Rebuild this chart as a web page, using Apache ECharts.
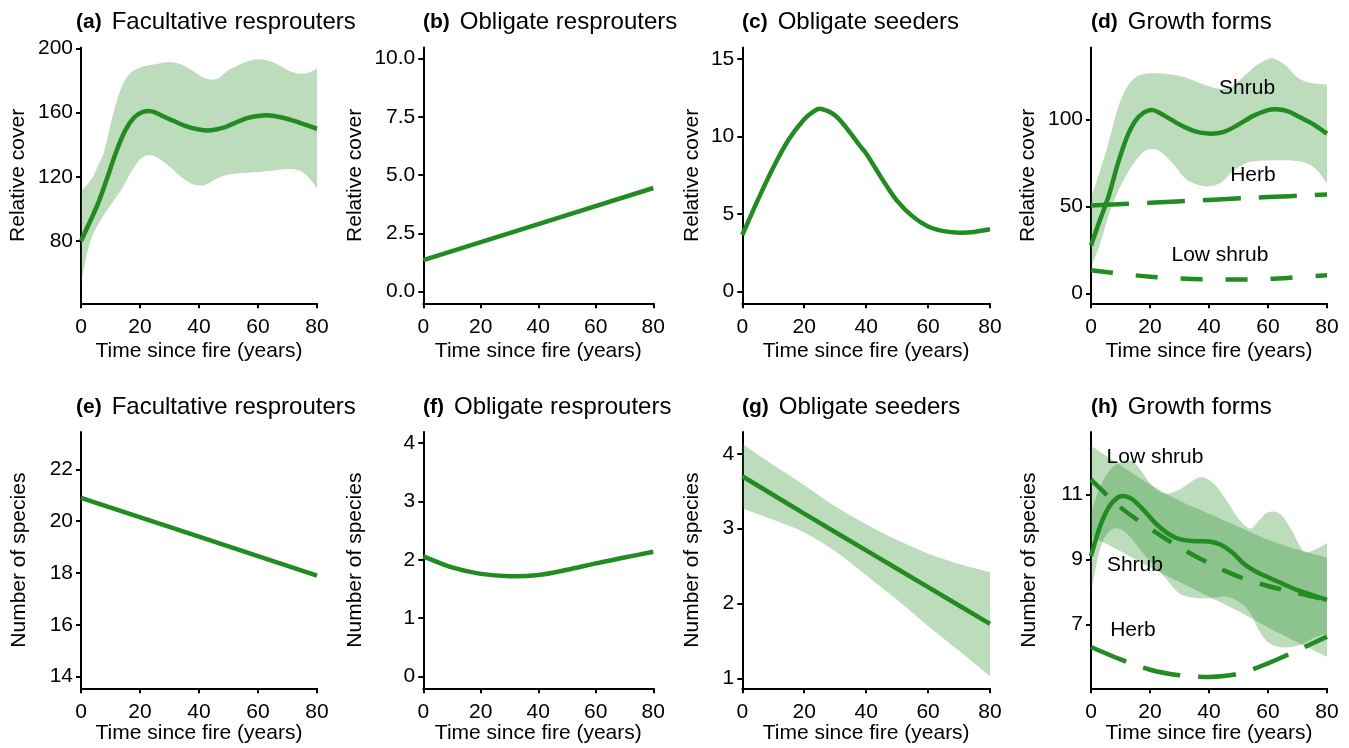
<!DOCTYPE html>
<html><head><meta charset="utf-8">
<script src="https://cdn.jsdelivr.net/npm/echarts@6.0.0/dist/echarts.min.js"></script>
<style>html,body{margin:0;padding:0;background:#fff}#c{width:1349px;height:748px}</style>
</head><body><div id="c"></div><script>
// ---------------- DATA ----------------
const xTicks = [0, 20, 40, 60, 80];
const xLabel = 'Time since fire (years)';

// (a) Facultative resprouters - relative cover
const aX = [0,3,6,9,12,15,18,21,24,27,30,35,40,44,48,52,56,60,64,68,72,76,80];
const aFit = [80,92,104.5,120,136,149,157,160.5,160.8,158.5,156,152,149.5,149,150.5,153.5,156.5,158,158.3,157,155,152.5,150];
const aBandX = [0,2,4,6,8,11,14,17,20,23,26,30,34,38,42,46,50,55,60,65,70,74,77,80];
const aUpper = [111,115,120,128,137,160,177,185,188,189.5,190.5,191.5,190,186,181.5,181,186.4,191,193.3,191.5,186.5,184.3,184.8,187.5];
const aLower = [54,72,84,91,97,105,113,123,131,133.5,132,126.5,120,115.5,115,119,121.5,122.5,123,124,125,124,120,113];
const aTicks = [80,120,160,200];

// (b) Obligate resprouters - relative cover
const bX = [0, 80];
const bFit = [1.35, 4.45];
const bTicks = [0, 2.5, 5, 7.5, 10];

// (c) Obligate seeders - relative cover
const cX = [0,5,10,15,20,23,25,28,30,32,35,38,40,43,46,50,55,60,65,70,75,80];
const cFit = [3.65,5.9,8.0,9.8,11.1,11.6,11.78,11.6,11.35,10.95,10.2,9.4,8.9,7.95,7.0,5.85,4.85,4.2,3.9,3.8,3.85,4.02];
const cTicks = [0,5,10,15];

// (d) Growth forms - relative cover
const dShrubX = [0,3,6,9,12,15,18,21,25,30,35,40,45,50,55,60,63,67,71,75,80];
const dShrub = [27.5,42,56,74,89,99,104,105.3,102,97,93.2,91.8,92.8,97,102,105.3,105.8,104.5,101,97.5,91.8];
const dBandX = [0,3,6,9,12,15,18,21,24,28,32,36,40,44,48,52,56,60,62,66,70,74,77,80];
const dUpper = [55,70,87,106,118,124,126,126.5,126.3,125.5,124,121.5,119,117.5,119,125,131,134.5,135,131,124,121,120.5,120];
const dLower = [15,28,45,58,68,76,81.5,83,81,74,66,62.5,61.5,63.5,70,74.5,76,76.3,76.5,76.5,76,74,70,63];
const dHerbX = [0,20,40,60,80];
const dHerb = [50.5,52,53.7,55.3,56.8];
const dLowX = [0,10,20,30,40,50,60,70,80];
const dLow = [13.2,11.3,9.5,8.5,8.0,7.9,8.3,9.3,10.4];
const dTicks = [0,50,100];
const dNotes = [['Shrub',52.9,117.8],['Herb',54.9,67.8],['Low shrub',43.7,21.8]];

// (e) Facultative resprouters - species
const eX = [0, 80];
const eFit = [20.9, 17.9];
const eTicks = [14,16,18,20,22];

// (f) Obligate resprouters - species
const fX = [0,10,20,30,40,50,60,70,80];
const fFit = [2.06,1.87,1.76,1.72,1.74,1.83,1.94,2.04,2.14];
const fTicks = [0,1,2,3,4];

// (g) Obligate seeders - species
const gX = [0,20,40,60,80];
const gFit = [3.7,3.2,2.71,2.22,1.73];
const gBandX = [0,10,20,30,40,50,60,70,80];
const gUpper = [4.13,3.85,3.58,3.3,3.06,2.85,2.67,2.53,2.42];
const gLower = [3.27,3.12,2.95,2.7,2.38,2.05,1.7,1.37,1.03];
const gTicks = [1,2,3,4];

// (h) Growth forms - species
const hShrubX = [0,3,6,9,11,14,18,22,26,30,35,40,44,48,52,56,60,65,70,75,80];
const hShrub = [9.1,10.0,10.6,10.9,10.95,10.85,10.5,10.1,9.8,9.62,9.56,9.55,9.45,9.2,8.85,8.62,8.45,8.25,8.05,7.9,7.75];
const hShrubBandX = [0,3,6,9,12,15,18,21,25,30,35,38,42,46,50,54,57,60,64,68,72,76,80];
const hShrubUpper = [10.45,11.2,11.7,11.95,12.05,11.95,11.6,11.25,11.02,11.15,11.45,11.53,11.3,10.8,10.25,9.95,10.2,10.45,10.4,9.9,9.25,9.3,9.5];
const hShrubLower = [7.95,9.3,9.85,9.95,9.8,9.5,9.15,8.85,8.45,7.95,7.82,7.8,7.82,7.85,7.7,7.35,6.8,6.45,6.3,6.3,6.4,6.6,6.7];
const hLowX = [0,10,20,30,40,50,60,70,80];
const hLow = [11.45,10.6,9.95,9.37,8.88,8.47,8.18,7.96,7.75];
const hLowBandX = [0,10,20,30,40,50,60,70,80];
const hLowUpper = [12.5,11.9,11.3,10.8,10.4,10.0,9.6,9.3,9.05];
const hLowLower = [9.7,9.25,8.75,8.3,7.85,7.4,6.9,6.45,6.0];
const hHerbX = [0,10,20,30,40,50,60,70,80];
const hHerb = [6.3,5.92,5.6,5.43,5.38,5.48,5.8,6.2,6.62];
const hTicks = [7,9,11];
const hNotes = [['Low shrub',21.7,12.14],['Shrub',14.9,8.82],['Herb',14.2,6.82]];

// ---------------- LAYOUT / STYLE ----------------
const FONT = 'Liberation Sans, Arial, Helvetica, sans-serif';
const GREEN = '#228B22';
const BAND = 'rgba(34,139,34,0.3)';
const LW = 4.5;
const row1 = {top: 47.5, height: 255.8, nameGap: 37, titleTop: 9};
const row2 = {top: 432, height: 256.3, nameGap: 30.5, titleTop: 394};

const panels = [
  {key:'a', title:'Facultative resprouters', row:row1, left:81, width:236, ymin:41.3, ymax:200.6, ticks:aTicks, dec:0, yName:'Relative cover', yGap:52.5, tl:76},
  {key:'b', title:'Obligate resprouters', row:row1, left:423.3, width:230, ymin:-0.5, ymax:10.48, ticks:bTicks, dec:1, yName:'Relative cover', yGap:57.5, tl:423},
  {key:'c', title:'Obligate seeders', row:row1, left:742.3, width:247.7, ymin:-0.75, ymax:15.73, ticks:cTicks, dec:0, yName:'Relative cover', yGap:39.5, tl:742},
  {key:'d', title:'Growth forms', row:row1, left:1091, width:236, ymin:-5.74, ymax:141.3, ticks:dTicks, dec:0, yName:'Relative cover', yGap:52.5, tl:1091},
  {key:'e', title:'Facultative resprouters', row:row2, left:81, width:236, ymin:13.55, ymax:23.44, ticks:eTicks, dec:0, yName:'Number of species', yGap:51, tl:76},
  {key:'f', title:'Obligate resprouters', row:row2, left:423.3, width:230, ymin:-0.2, ymax:4.19, ticks:fTicks, dec:0, yName:'Number of species', yGap:57.5, tl:423},
  {key:'g', title:'Obligate seeders', row:row2, left:742.3, width:247.7, ymin:0.87, ymax:4.29, ticks:gTicks, dec:0, yName:'Number of species', yGap:39.5, tl:742},
  {key:'h', title:'Growth forms', row:row2, left:1091, width:236, ymin:5.03, ymax:12.92, ticks:hTicks, dec:0, yName:'Number of species', yGap:51, tl:1091}
];

const axisLineStyle = {color:'#000', width:2};
const grids = [], xAxes = [], yAxes = [], titles = [], series = [];

panels.forEach((p, i) => {
  grids.push({left:p.left, top:p.row.top, width:p.width, height:p.row.height, containLabel:false});
  xAxes.push({
    type:'value', gridIndex:i, min:0, max:80, interval:20,
    axisLine:{show:true, lineStyle:axisLineStyle, onZero:false},
    axisTick:{show:true, length:5, lineStyle:{color:'#000', width:2}},
    axisLabel:{color:'#000', fontSize:21, fontFamily:FONT, margin:13},
    splitLine:{show:false},
    name:xLabel, nameLocation:'middle', nameGap:p.row.nameGap,
    nameTextStyle:{color:'#000', fontSize:21, fontFamily:FONT}
  });
  yAxes.push({
    type:'value', gridIndex:i, min:p.ymin, max:p.ymax,
    axisLine:{show:true, lineStyle:axisLineStyle, onZero:false},
    axisTick:{show:true, length:5, lineStyle:{color:'#000', width:2}, customValues:p.ticks},
    axisLabel:{color:'#000', fontSize:21, fontFamily:FONT, margin:8, customValues:p.ticks,
      formatter:(v) => Number(v).toFixed(p.dec)},
    splitLine:{show:false},
    name:p.yName, nameLocation:'middle', nameRotate:90, nameGap:p.yGap,
    nameTextStyle:{color:'#000', fontSize:21, fontFamily:FONT}
  });
  titles.push({
    text:'{b|(' + p.key + ')}{n|' + p.title + '}',
    left:p.tl, top:p.row.titleTop, padding:0,
    textStyle:{fontSize:24, fontFamily:FONT, color:'#000', fontWeight:'normal', lineHeight:26,
      rich:{
        b:{fontSize:21, fontWeight:'bold', fontFamily:FONT, color:'#000', lineHeight:26},
        n:{fontSize:24, fontWeight:'normal', fontFamily:FONT, color:'#000', lineHeight:26, padding:[0,0,0,10]}
      }}
  });
});

// Catmull-Rom -> cubic Bezier path through pixel points (drawing helper only)
function crPath(pts) {
  let s = '';
  for (let i = 0; i < pts.length - 1; i++) {
    const p0 = pts[i - 1] || pts[i], p1 = pts[i], p2 = pts[i + 1], p3 = pts[i + 2] || pts[i + 1];
    const t = 1 / 6;
    const c1 = [p1[0] + (p2[0] - p0[0]) * t, p1[1] + (p2[1] - p0[1]) * t];
    const c2 = [p2[0] - (p3[0] - p1[0]) * t, p2[1] - (p3[1] - p1[1]) * t];
    s += ' C' + c1[0] + ',' + c1[1] + ' ' + c2[0] + ',' + c2[1] + ' ' + p2[0] + ',' + p2[1];
  }
  return s;
}

function band(idx, xs, lo, hi) {
  series.push({
    type:'custom', xAxisIndex:idx, yAxisIndex:idx, silent:true, z:1, clip:true,
    data:[[xs[0], lo[0]]],
    renderItem:(params, api) => {
      const up = xs.map((x, i) => api.coord([x, hi[i]]));
      const dn = xs.map((x, i) => api.coord([x, lo[i]])).reverse();
      const d = 'M' + up[0][0] + ',' + up[0][1] + crPath(up) +
                ' L' + dn[0][0] + ',' + dn[0][1] + crPath(dn) + ' Z';
      return {type:'path', shape:{pathData:d}, style:{fill:BAND, stroke:null}};
    }
  });
}
function fit(idx, xs, ys, dash) {
  series.push({
    type:'custom', xAxisIndex:idx, yAxisIndex:idx, silent:true, z:3,
    data:[[xs[0], ys[0]]],
    renderItem:(params, api) => {
      const pts = xs.map((x, i) => api.coord([x, ys[i]]));
      const d = 'M' + pts[0][0] + ',' + pts[0][1] + crPath(pts);
      return {type:'path', shape:{pathData:d},
        style:{fill:'none', stroke:GREEN, lineWidth:LW, lineDash:dash || null, lineCap:'butt', lineJoin:'round'}};
    }
  });
}
function notes(idx, list) {
  series.push({
    type:'custom', xAxisIndex:idx, yAxisIndex:idx, silent:true, z:4,
    data:[[list[0][1], list[0][2]]],
    renderItem:(params, api) => ({
      type:'group',
      children:list.map(n => {
        const p = api.coord([n[1], n[2]]);
        return {type:'text', x:p[0], y:p[1],
          style:{text:n[0], fill:'#000', fontSize:21, fontFamily:FONT, align:'center', verticalAlign:'middle'}};
      })
    })
  });
}

// a
band(0, aBandX, aLower, aUpper);
fit(0, aX, aFit);
// b
fit(1, bX, bFit);
// c
fit(2, cX, cFit);
// d
band(3, dBandX, dLower, dUpper);
fit(3, dShrubX, dShrub);
fit(3, dHerbX, dHerb, [38, 18]);
fit(3, dLowX, dLow, [22, 23]);
notes(3, dNotes);
// e
fit(4, eX, eFit);
// f
fit(5, fX, fFit);
// g
band(6, gBandX, gLower, gUpper);
fit(6, gX, gFit);
// h
band(7, hShrubBandX, hShrubLower, hShrubUpper);
band(7, hLowBandX, hLowLower, hLowUpper);
fit(7, hShrubX, hShrub);
fit(7, hLowX, hLow, [22, 18]);
fit(7, hHerbX, hHerb, [38, 18]);
notes(7, hNotes);

const chart = echarts.init(document.getElementById('c'), null, {renderer:'canvas'});
chart.setOption({
  animation:false,
  backgroundColor:'#fff',
  title:titles,
  grid:grids,
  xAxis:xAxes,
  yAxis:yAxes,
  series:series
});
</script></body></html>
